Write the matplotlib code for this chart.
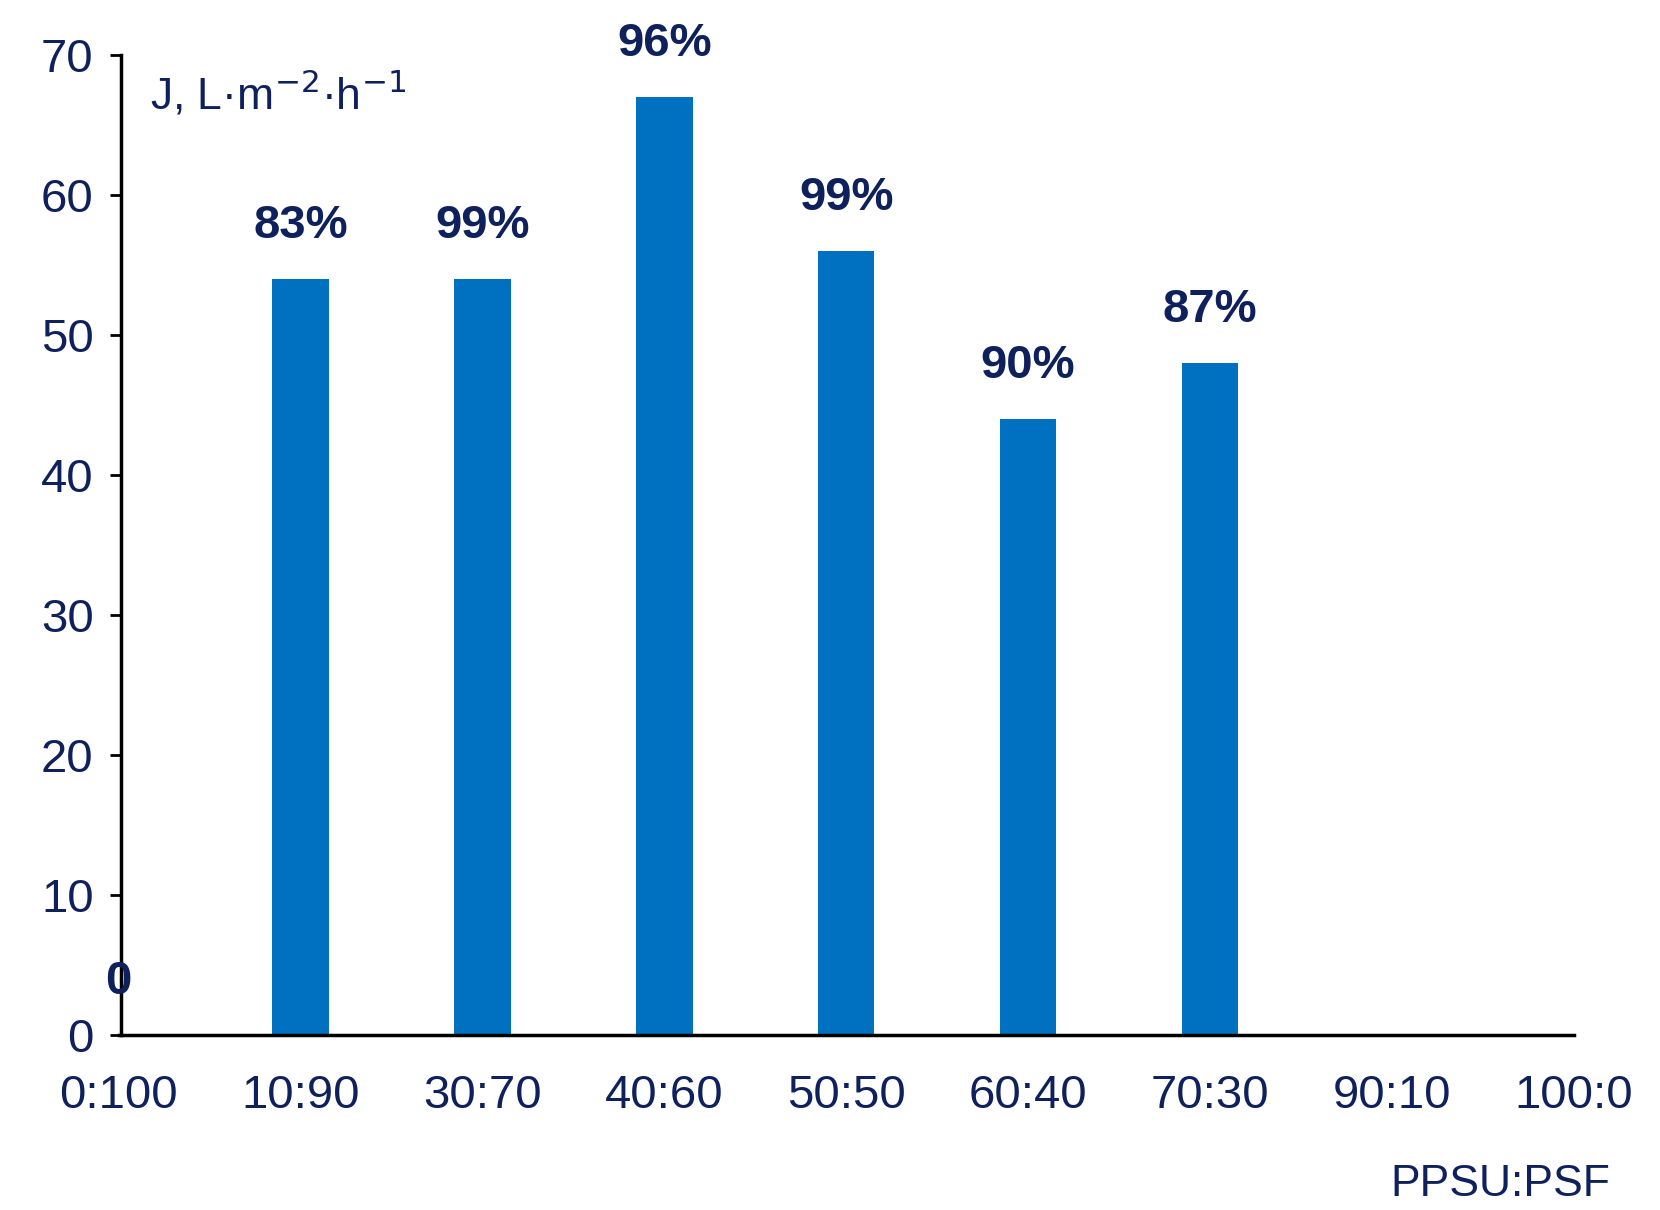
import matplotlib.pyplot as plt

plt.rcParams['font.family'] = ['Liberation Sans', 'DejaVu Sans']

# 데이터
ratios = ['0:100', '10:90', '30:70', '40:60', '50:50', '60:40', '70:30', '90:10', '100:0']
flux = [0, 54, 54, 67, 56, 44, 48, 0, 0]
labels = ['0', '83%', '99%', '96%', '99%', '90%', '87%', '', '']

navy = '#0E215C'
blue = '#0070C0'

fig = plt.figure(figsize=(16.6, 12.1), dpi=100)
ax = fig.add_axes([0.0715, 0.1446, 0.8765, 0.81])

x = list(range(len(ratios)))
ax.bar(x, flux, width=0.31, color=blue, zorder=2)
for xi, v, lab in zip(x, flux, labels):
    if lab:
        ax.text(xi, v + 2.2, lab, ha='center', va='bottom', fontsize=34,
                fontweight='bold', color=navy)

ax.set_xlim(0, 8)
ax.set_ylim(0, 70)
ax.set_yticks(range(0, 71, 10))
ax.set_xticks(x)
ax.set_xticklabels(ratios)
ax.tick_params(axis='x', length=0, pad=28, labelsize=34, labelcolor=navy)
ax.tick_params(axis='y', length=8, width=2, direction='out', pad=12,
               labelsize=34, labelcolor=navy)
for s in ['top', 'right']:
    ax.spines[s].set_visible(False)
for s in ['left', 'bottom']:
    ax.spines[s].set_linewidth(2.5)
ax.spines['left'].set_position(('data', 0.015))

ax.text(0.17, 69, 'J, L·m$^{-2}$·h$^{-1}$', ha='left', va='top',
        fontsize=32, color=navy)
ax.text(8.2, -9.2, 'PPSU:PSF', ha='right', va='top', fontsize=32, color=navy)

fig.savefig('out.png', dpi=100)
